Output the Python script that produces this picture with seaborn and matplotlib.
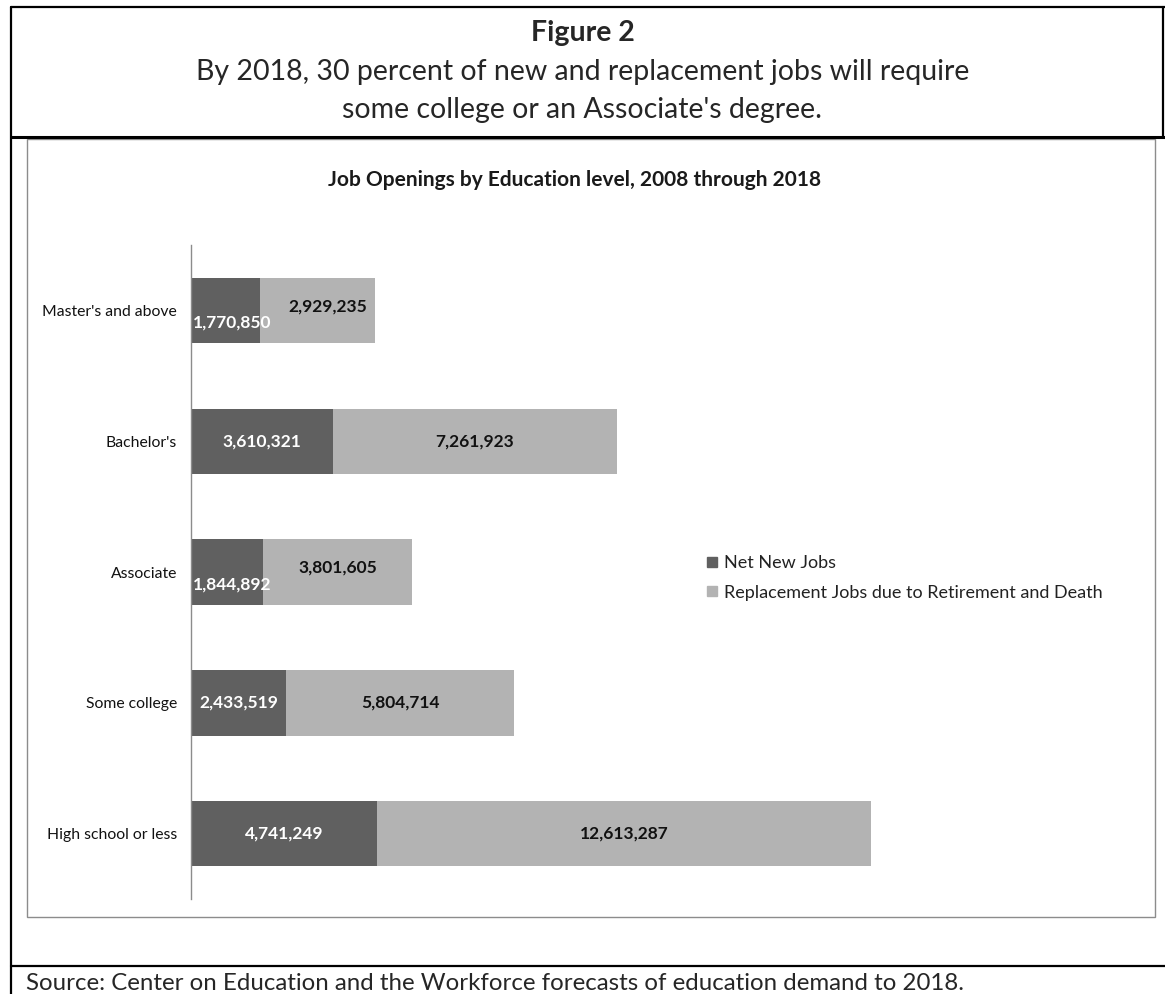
import numpy as np
import pandas as pd
import matplotlib
matplotlib.use('Agg')
import matplotlib.pyplot as plt
from matplotlib.lines import Line2D
from matplotlib.patches import Rectangle
import seaborn as sns

# Data
levels = ["Master's and above", "Bachelor's", "Associate", "Some college", "High school or less"]
net_new = [1770850, 3610321, 1844892, 2433519, 4741249]
replacement = [2929235, 7261923, 3801605, 5804714, 12613287]
series_names = ["Net New Jobs", "Replacement Jobs due to Retirement and Death"]

fig_label = "Figure 2"
subtitle = ["By 2018, 30 percent of new and replacement jobs will require",
            "some college or an Associate's degree."]
chart_title = "Job Openings by Education level, 2008 through 2018"
source_note = "Source: Center on Education and the Workforce forecasts of education demand to 2018."

dark = '#606060'
light = '#b3b3b3'

df = pd.DataFrame({'level': levels, 'net': net_new, 'repl': replacement})
df['total'] = df['net'] + df['repl']

W, H = 1165, 994
sns.set_theme(style='white')
plt.rcParams['font.family'] = ['Lato', 'DejaVu Sans']

fig = plt.figure(figsize=(W / 100, H / 100), dpi=100)
fig.patch.set_facecolor('white')


def fx(x):
    return x / W


def fy(y):
    return 1 - y / H


# chart area
ax = fig.add_axes([fx(191), fy(899), (1140 - 191) / W, (899 - 245) / H])
sns.barplot(data=df, x='total', y='level', color=light, width=0.5, saturation=1,
            linewidth=0, ax=ax)
sns.barplot(data=df, x='net', y='level', color=dark, width=0.5, saturation=1,
            linewidth=0, ax=ax)
ax.set_xlim(0, 949 / 39.2 * 1e6)
ax.set_ylim(4.5, -0.5)
ax.set_xticks([])
ax.set_xlabel('')
ax.set_ylabel('')
for s in ['top', 'right', 'bottom']:
    ax.spines[s].set_visible(False)
ax.spines['left'].set_color('#8c8c8c')
ax.spines['left'].set_linewidth(1)
ax.tick_params(axis='y', length=0, pad=10, labelsize=11.3, labelcolor='#111111')

# value labels
fig.canvas.draw()
renderer = fig.canvas.get_renderer()
px_per_unit = ax.transData.transform((1, 0))[0] - ax.transData.transform((0, 0))[0]
for i, row in df.iterrows():
    net_px = row['net'] * px_per_unit
    narrow = net_px < 90
    if narrow:
        t1 = ax.annotate(f"{row['net']:,}", (0, i), xytext=(1.5, -9), textcoords='offset points',
                         ha='left', va='center', color='white', fontsize=12.5, fontweight='bold')
        ext = t1.get_window_extent(renderer)
        right_px = ext.x1 + 17
        t2 = ax.annotate(f"{row['repl']:,}", (row['net'] + row['repl'] / 2, i), xytext=(0, 3),
                         textcoords='offset points', ha='center', va='center', color='#111111',
                         fontsize=12.5, fontweight='bold')
        e2 = t2.get_window_extent(renderer)
        if e2.x0 < right_px:
            shift = (right_px - e2.x0) * 72 / 100
            t2.set_position((shift, 3))
    else:
        ax.text(row['net'] / 2, i, f"{row['net']:,}", ha='center', va='center',
                color='white', fontsize=12.5, fontweight='bold')
        ax.text(row['net'] + row['repl'] / 2, i, f"{row['repl']:,}", ha='center', va='center',
                color='#111111', fontsize=12.5, fontweight='bold')

# legend
handles = [Line2D([], [], marker='s', linestyle='', markersize=7, color=c) for c in [dark, light]]
fig.legend(handles, series_names, loc='center left', bbox_to_anchor=(fx(688), fy(578)),
           frameon=False, fontsize=13, labelspacing=0.75, handletextpad=0.2,
           handlelength=0.9, labelcolor='#222222')

# header text
fig.text(0.5, fy(33), fig_label, ha='center', va='center', fontsize=20.5, fontweight='bold')
fig.text(0.5, fy(72), subtitle[0], ha='center', va='center', fontsize=20.5)
fig.text(0.5, fy(110), subtitle[1], ha='center', va='center', fontsize=20.5)
fig.text(fx(575), fy(180), chart_title, ha='center', va='center', fontsize=15,
         fontweight='bold', color='#1a1a1a')
fig.text(fx(26), fy(984), source_note, ha='left', va='center', fontsize=17.3)

# frame lines
blk = dict(color='black', linewidth=1.6, transform=fig.transFigure)
fig.add_artist(Line2D([fx(11), fx(11)], [fy(7), fy(994)], **blk))
fig.add_artist(Line2D([fx(11), fx(1165)], [fy(7), fy(7)], **blk))
fig.add_artist(Line2D([fx(1163), fx(1163)], [fy(7), fy(137)], **blk))
fig.add_artist(Line2D([fx(11), fx(1165)], [fy(137), fy(137)], color='black', linewidth=2.2,
                      transform=fig.transFigure))
fig.add_artist(Line2D([fx(11), fx(1165)], [fy(966), fy(966)], **blk))
fig.add_artist(Rectangle((fx(27), fy(917)), fx(1155) - fx(27), fy(139) - fy(917),
                         fill=False, edgecolor='#8c8c8c', linewidth=1, transform=fig.transFigure))

fig.savefig('out.png', dpi=100)
